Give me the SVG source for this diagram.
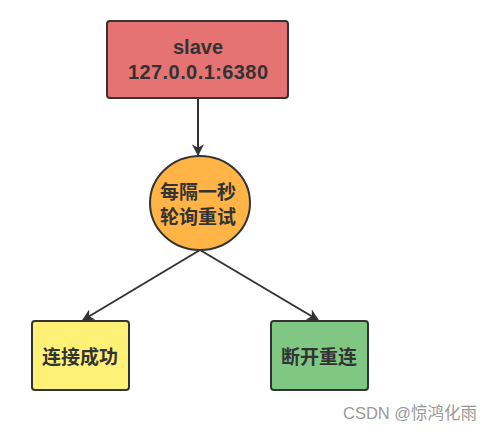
<svg xmlns="http://www.w3.org/2000/svg" width="498" height="431" viewBox="0 0 498 431">
<style>
.n{stroke:#333;stroke-width:2}
.t{font-family:"Noto Sans CJK SC","Liberation Sans",sans-serif;font-weight:bold;fill:#333;text-anchor:middle}
.l{font-family:"Liberation Sans",sans-serif;font-weight:bold;fill:#333;text-anchor:middle;font-size:20px}
.c{stroke:#333;stroke-width:2;fill:none;marker-end:url(#a)}
</style>
<defs>
<marker id="a" viewBox="0 0 10 10" refX="9" refY="5" markerWidth="6" markerHeight="6" orient="auto" markerUnits="strokeWidth">
<path d="M0,0 L10,5 L0,10 L3,5 Z" fill="#333"/>
</marker>
</defs>
<rect width="498" height="431" fill="#fff"/>
<g id="connectors">
<line class="c" x1="198" y1="98" x2="198" y2="155"/>
<line class="c" x1="200" y1="250" x2="83" y2="320"/>
<line class="c" x1="200" y1="250" x2="318" y2="320"/>
</g>
<g id="slave">
<rect class="n" x="107" y="21" width="181" height="77" rx="3" fill="#E57373"/>
<text class="l" x="198" y="54">slave</text>
<text class="l" x="198" y="79" textLength="140" lengthAdjust="spacing">127.0.0.1:6380</text>
</g>
<g id="retry">
<ellipse class="n" cx="200" cy="203" rx="50" ry="47" fill="#FFB445"/>
<text class="t" x="198" y="199" font-size="19">每隔一秒</text>
<text class="t" x="198" y="224" font-size="19">轮询重试</text>
</g>
<g id="success">
<rect class="n" x="32" y="321" width="97" height="69" rx="3" fill="#FFF176"/>
<text class="t" x="80" y="364" font-size="19">连接成功</text>
</g>
<g id="reconnect">
<rect class="n" x="271" y="321" width="97" height="69" rx="3" fill="#81C784"/>
<text class="t" x="319" y="364" font-size="19">断开重连</text>
</g>
<text x="343" y="419" font-family="'Liberation Sans','Noto Sans CJK SC',sans-serif" font-size="16.5" fill="#999">CSDN @惊鸿化雨</text>
</svg>
